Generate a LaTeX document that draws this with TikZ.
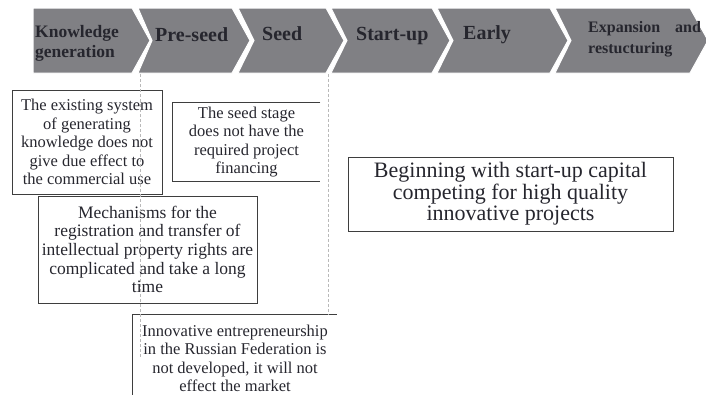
\documentclass[tikz,border=0pt]{standalone}
\usepackage{fontspec}
\setmainfont{Liberation Serif}
\definecolor{stagegray}{RGB}{128,128,132}
\definecolor{textdark}{RGB}{38,38,46}
\definecolor{boxline}{RGB}{62,62,62}
\tikzset{stage/.style={fill=stagegray,draw=white,line width=1pt}}
\tikzset{stagename/.style={text=textdark,inner sep=0pt,
                           font=\bfseries\fontsize{20}{22}\selectfont}}
\tikzset{issueline/.style={draw=boxline,line width=0.9pt}}
\tikzset{issue/.style={issueline,text=textdark,align=center,inner sep=0pt,
                       font=\fontsize{16.5}{18.5}\selectfont}}
\tikzset{guide/.style={draw=gray!55,line width=1pt,dash pattern=on 3pt off 2pt}}

\begin{document}
\begin{tikzpicture}[x=1pt,y=-1pt]
    \useasboundingbox (0,0) rectangle (706,394);
    % stages
    \foreach \l/\r/\n [count=\i] in {33/132/0,138/232/14,238/326/16,
                                     331/432/16,437/550/16,555/690/16}{%
          \path[stage] (\l,8) -- (\r,8) -- (\r+18,40.5) -- (\r,73)
                       -- (\l,73) -- (\l+\n,40.5) -- cycle;
        }
    \node[stagename,font=\bfseries\fontsize{17.5}{20}\selectfont,
          text width=100pt,align=left,anchor=base west] (s1) at (35,37)
          {Knowledge\\generation};
    \node[stagename,anchor=base west] (s2) at (155,41) {Pre-seed};
    \node[stagename,anchor=base west] (s3) at (262,40) {Seed};
    \node[stagename,anchor=base west] (s4) at (356,40) {Start-up};
    \node[stagename,anchor=base west] (s5) at (463,39) {Early};
    \node[stagename,font=\bfseries\fontsize{16}{21}\selectfont,
          text width=120pt,align=left,anchor=base west] (s6) at (588,32)
          {Expansion\hspace{15pt}and\\restucturing};

    % problems
    \node[issue,minimum width=150pt,minimum height=104pt] (exist) at (87,142)
          {The existing system\\of generating\\knowledge does not\\
           give due effect to\\the commercial use};
    \node[issue,draw=none,minimum width=147pt,minimum height=78pt] (seed)
          at (246.5,142)
          {The seed stage\\does not have the\\required project\\financing};
    \draw[issueline] (seed.north east) -- (seed.north west)
                     -- (seed.south west) -- (seed.south east);
    \node[issue,font=\fontsize{22}{21.7}\selectfont,
          minimum width=325pt,minimum height=74pt] (capital) at (510.5,194)
          {Beginning with start-up capital\\competing for high quality\\
           innovative projects};
    \node[issue,font=\fontsize{17.5}{18.7}\selectfont,
          minimum width=219pt,minimum height=107pt] (mech) at (147.5,249.5)
          {Mechanisms for the\\registration and transfer of\\
           intellectual property rights are\\complicated and take a long\\time};
    \node[issue,draw=none,minimum width=204pt,minimum height=87pt] (russia)
          at (235,358.5)
          {Innovative entrepreneurship\\in the Russian Federation is\\
           not developed, it will not\\effect the market};
    \draw[issueline] (russia.south west) -- (russia.north west)
                     -- (russia.north east);

    % stage borders
    \coordinate (cut1) at (140,74);
    \coordinate (end1) at (140,357);
    \coordinate (cut2) at (328,74);
    \draw[guide] (cut1) -- (end1);
    \draw[guide] (cut2) -- (cut2 |- russia.north);
\end{tikzpicture}
\end{document}
